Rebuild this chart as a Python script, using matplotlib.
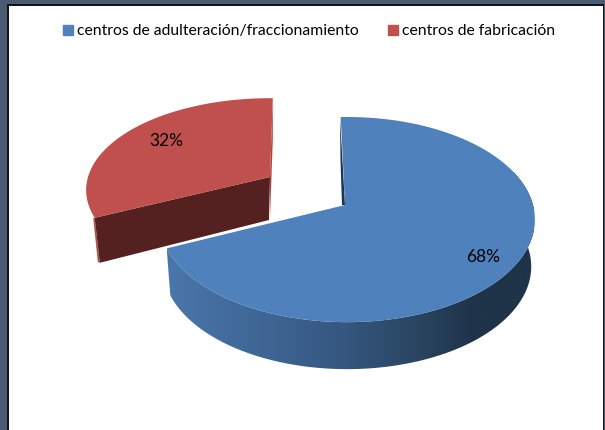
import numpy as np
import matplotlib
matplotlib.use('Agg')
import matplotlib.pyplot as plt
from matplotlib.colors import LinearSegmentedColormap
from matplotlib.patches import Patch, Polygon, Rectangle

categories = ['centros de adulteración/fraccionamiento', 'centros de fabricación']
shares = [68, 32]
labels = ['68%', '32%']
colors = ['#4f81bd', '#c0504d']

plt.rcParams['font.family'] = ['Lato', 'DejaVu Sans']

K = 0.142  # perspective of the pie plane


def project(t, cx, cy, rx, ry):
    # t is clockwise from 12 o'clock, in degrees
    u = np.sin(np.radians(t))
    v = np.cos(np.radians(t))
    w = 1 + K * v
    return cx + rx * u / w, cy - ry * v / w


def extrude(x, y, depth):
    return x + 0.02 * (350 - x), y + depth


fig = plt.figure(figsize=(6.05, 4.3), dpi=100)
ax = fig.add_axes([0, 0, 1, 1])
ax.set_xlim(0, 605)
ax.set_ylim(430, 0)
ax.axis('off')

# window frame around the chart
ax.add_patch(Rectangle((0, 0), 605, 4, color='#4a5a70', lw=0))
ax.add_patch(Rectangle((0, 0), 7, 430, color='#4a5a70', lw=0))
ax.add_patch(Rectangle((603, 0), 2, 430, color='#4a5a70', lw=0))
ax.add_patch(Rectangle((7, 4), 596, 1.5, color='#10141c', lw=0))
ax.add_patch(Rectangle((7, 4), 1.5, 426, color='#10141c', lw=0))
ax.add_patch(Rectangle((602.5, 4), 1, 426, color='#10141c', lw=0))

split = 360 * shares[0] / sum(shares)

# exploded red slice
red = dict(cx=270, cy=177, rx=182, ry=90)
ts = np.linspace(split, 361, 120)
xs, ys = project(ts, **red)
apex = (red['cx'], red['cy'])
apex_low = (red['cx'] - 1, red['cy'] + 43)
low = extrude(xs[0], ys[0], 45)
ax.add_patch(Polygon([(xs[0] - 1.5, ys[0]), (low[0] - 2, low[1] - 1), low, (xs[0], ys[0])],
                     color='#a8504c', lw=0))
ax.add_patch(Polygon([(xs[0], ys[0]), apex, apex_low, low], color='#542020', lw=0))
ax.add_patch(Polygon([(xs[-1], ys[-1]), (xs[-1], 140), (apex_low[0] + 1, apex_low[1] - 2), apex],
                     color='#a8443f', lw=0))
ax.add_patch(Polygon(np.r_[np.c_[xs, ys], [apex]], color=colors[1], lw=0))

# blue slice, side first with its shading
blue = dict(cx=347, cy=205, rx=186, ry=100.5)
blue_apex = (345, 205)
turn = 1.2  # the slice starts a little before 12 o'clock
side = LinearSegmentedColormap.from_list(
    'side', [(0, '#4a76aa'), (0.28, '#3e6593'), (0.48, '#355780'), (0.68, '#2a4562'), (0.84, '#1f3349'), (1, '#1f3349')])
ts = np.linspace(70, split + turn, 300)
xs, ys = project(ts, **blue)
bx, by = extrude(xs, ys, 47)
outline = Polygon(np.r_[np.c_[xs, ys], np.c_[bx, by][::-1]], transform=ax.transData, fc='none', lw=0)
ax.add_patch(outline)
ramp = np.linspace(0, 1, 256).reshape(1, -1)
img = ax.imshow(ramp, cmap=side, extent=(167, 534, 430, 0), aspect='auto', zorder=1)
img.set_clip_path(outline)
ax.set_xlim(0, 605)
ax.set_ylim(430, 0)

# sliver of the cut face seen behind the start of the slice
ax.add_patch(Polygon([(340, 117), blue_apex, (342, 205), (340.5, 160)], color='#1d3350', lw=0))

ts = np.linspace(-2.2, split + turn, 300)
xs, ys = project(ts, **blue)
ax.add_patch(Polygon(np.r_[np.c_[xs, ys], [blue_apex]], color=colors[0], lw=0))

ax.text(483, 257, labels[0], ha='center', va='center', fontsize=12.5, color='black')
ax.text(166, 141, labels[1], ha='center', va='center', fontsize=12.5, color='black')

handles = [Patch(color=c) for c in colors]
leg = ax.legend(handles, categories, ncol=2, loc='center', bbox_to_anchor=(0.511, 0.927),
                frameon=False, fontsize=11.3, handlelength=0.64, handleheight=0.64,
                handletextpad=0.25, columnspacing=1.85, borderpad=0)

fig.savefig('out.png', dpi=100)
